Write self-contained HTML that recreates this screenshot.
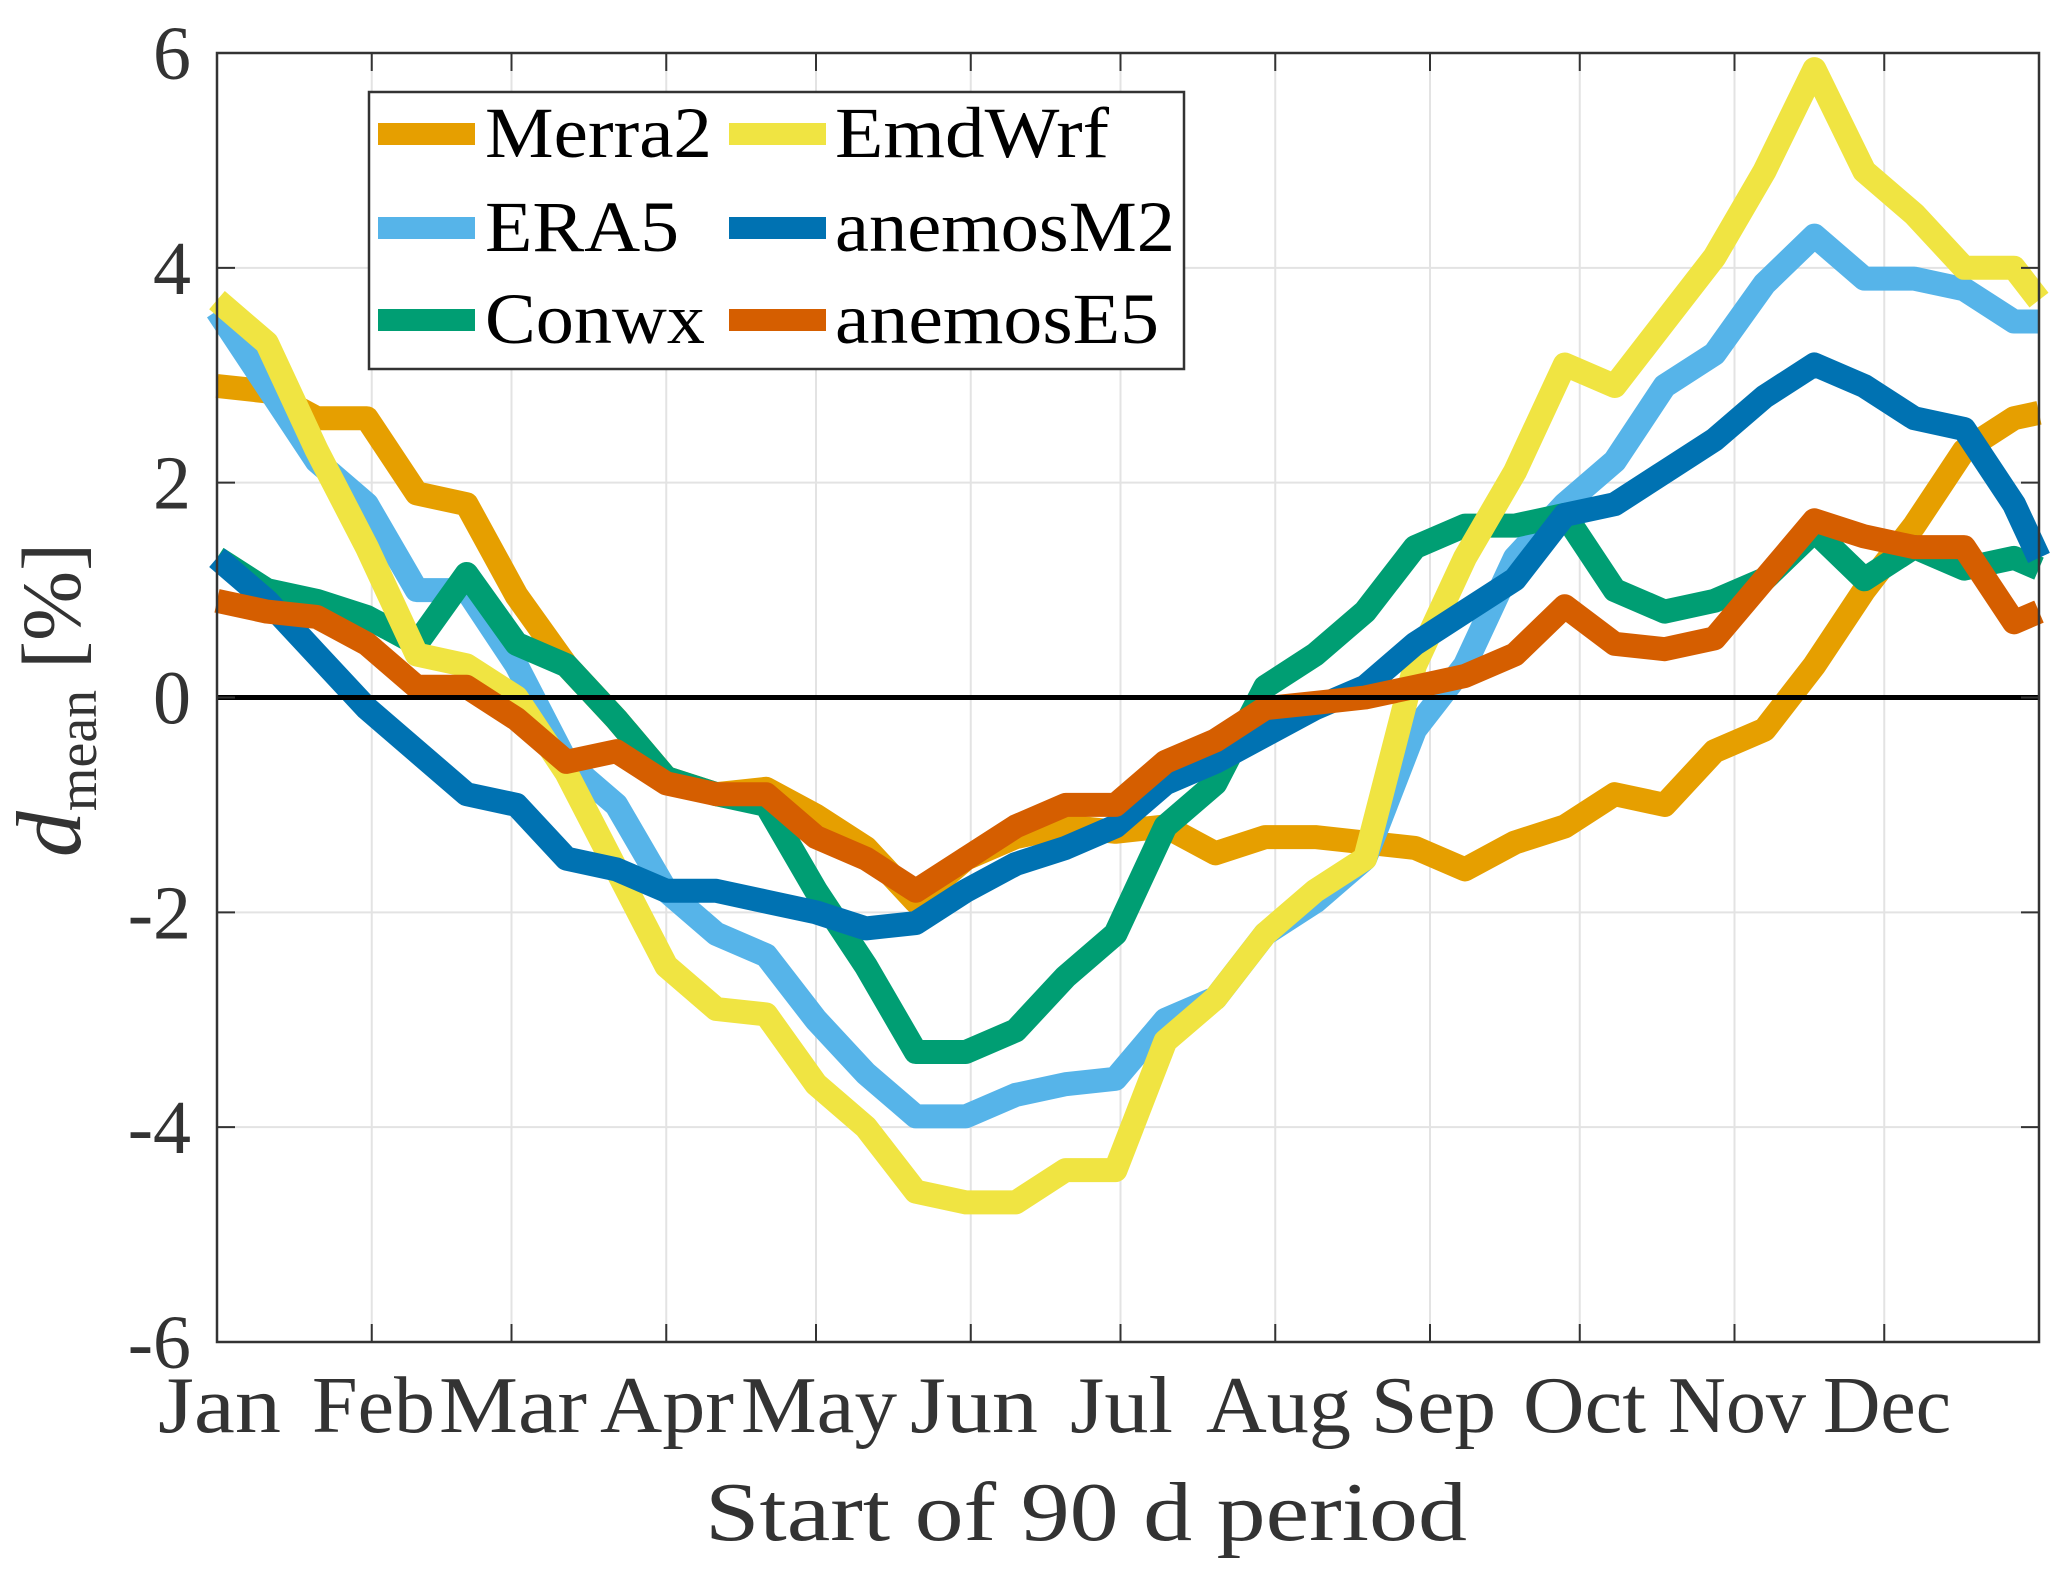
<!DOCTYPE html>
<html><head><meta charset="utf-8"><style>
html,body{margin:0;padding:0;background:#fff;}
svg{display:block;font-family:"Liberation Serif",serif;}
</style></head><body>
<svg id="chart" width="2067" height="1575" viewBox="0 0 2067 1575" xmlns="http://www.w3.org/2000/svg">
<rect width="2067" height="1575" fill="#fff"/>
<g id="grid"></g>
<g id="series"></g>
<g id="axes"></g>
<g id="legend"></g>
</svg>
<script>
const days = [0,10,20,30,40,50,60,70,80,90,100,110,120,130,140,150,160,170,180,190,200,210,220,230,240,250,260,270,280,290,300,310,320,330,340,350,360,365];
const merra2 = [2.9,2.85,2.6,2.6,1.9,1.8,0.95,0.3,-0.2,-0.75,-0.9,-0.85,-1.1,-1.4,-1.9,-1.5,-1.3,-1.2,-1.25,-1.2,-1.45,-1.3,-1.3,-1.35,-1.4,-1.6,-1.35,-1.2,-0.9,-1.0,-0.5,-0.3,0.3,1.0,1.6,2.3,2.6,2.65];
const era5 = [3.6,2.9,2.2,1.8,1.0,1.0,0.3,-0.6,-1.0,-1.8,-2.2,-2.4,-3.0,-3.5,-3.9,-3.9,-3.7,-3.6,-3.55,-3.0,-2.8,-2.2,-1.9,-1.5,-0.3,0.3,1.3,1.8,2.2,2.9,3.2,3.85,4.3,3.9,3.9,3.8,3.5,3.5];
const conwx = [1.3,1.0,0.9,0.75,0.5,1.15,0.5,0.3,-0.2,-0.75,-0.9,-1.0,-1.8,-2.5,-3.3,-3.3,-3.1,-2.6,-2.2,-1.2,-0.8,0.1,0.4,0.8,1.4,1.6,1.6,1.7,1.0,0.8,0.9,1.1,1.55,1.1,1.4,1.2,1.3,1.2];
const emdwrf = [3.7,3.3,2.3,1.4,0.4,0.3,0.0,-0.7,-1.6,-2.5,-2.9,-2.95,-3.6,-4.0,-4.6,-4.7,-4.7,-4.4,-4.4,-3.2,-2.8,-2.2,-1.8,-1.5,0.3,1.3,2.1,3.1,2.9,3.5,4.1,4.9,5.85,4.9,4.5,4.0,4.0,3.7];
const anemosM2 = [1.3,0.9,0.4,-0.1,-0.5,-0.9,-1.0,-1.5,-1.6,-1.8,-1.8,-1.9,-2.0,-2.15,-2.1,-1.8,-1.55,-1.4,-1.2,-0.8,-0.6,-0.35,-0.1,0.1,0.5,0.8,1.1,1.7,1.8,2.1,2.4,2.8,3.1,2.9,2.6,2.5,1.8,1.3];
const anemosE5 = [0.9,0.8,0.75,0.5,0.1,0.1,-0.2,-0.6,-0.5,-0.8,-0.9,-0.9,-1.3,-1.5,-1.8,-1.5,-1.2,-1.0,-1.0,-0.6,-0.4,-0.1,-0.05,0.0,0.1,0.2,0.4,0.85,0.5,0.45,0.55,1.1,1.65,1.5,1.4,1.4,0.7,0.8];
const monthLabels = ["Jan","Feb","Mar","Apr","May","Jun","Jul","Aug","Sep","Oct","Nov","Dec"];
const monthStarts = [0,31,59,90,120,151,181,212,243,273,304,334];
const yTicks = [-6,-4,-2,0,2,4,6];

const NS="http://www.w3.org/2000/svg";
const L=217,R=2039,T=53,B=1342;
const xS=d=>L+(R-L)*d/365;
const yS=v=>T+(B-T)*(6-v)/12;
function mk(tag,attrs,parent){const e=document.createElementNS(NS,tag);for(const k in attrs)e.setAttribute(k,attrs[k]);parent.appendChild(e);return e;}
const grid=document.getElementById('grid'),axes=document.getElementById('axes'),ser=document.getElementById('series'),leg=document.getElementById('legend');

const monthW=[123,123,148,134,156,128,103,145,125,123,138,128];
const monthLeft=[158,312,439,600,741,910,1070,1206,1371,1523,1668,1823];

yTicks.forEach(v=>{
  if(v>-6&&v<6){const g=mk('line',{x1:L,x2:R,y1:yS(v),y2:yS(v),stroke:'#e3e3e3','stroke-width':2},grid);
  
  }
  const t=mk('line',{x1:L,x2:L+18,y1:yS(v),y2:yS(v),stroke:'#333','stroke-width':2},axes);
  
  
  const t2=mk('line',{x1:R-18,x2:R,y1:yS(v),y2:yS(v),stroke:'#333','stroke-width':2},axes);
  
  
  const tx=mk('text',{x:L-26,y:yS(v)+26,'text-anchor':'end','font-size':76,fill:'#333'},axes);
  tx.textContent=String(v);
  
  
});
monthStarts.forEach((d,i)=>{
  const x=xS(d);
  if(i>0){const g=mk('line',{x1:x,x2:x,y1:T,y2:B,stroke:'#e3e3e3','stroke-width':2},grid);
  
  
  const t=mk('line',{x1:x,x2:x,y1:B-18,y2:B,stroke:'#333','stroke-width':2},axes);
  
  
  const t2=mk('line',{x1:x,x2:x,y1:T,y2:T+18,stroke:'#333','stroke-width':2},axes);
  
  }
  const tx=mk('text',{x:monthLeft[i],y:1432,'font-size':80,fill:'#333',textLength:monthW[i],lengthAdjust:'spacingAndGlyphs'},axes);
  tx.textContent=monthLabels[i];
  
  
});

const series=[
 {name:'Merra2',data:merra2,color:'#E69F00'},
 {name:'ERA5',data:era5,color:'#56B4E9'},
 {name:'Conwx',data:conwx,color:'#009E73'},
 {name:'EmdWrf',data:emdwrf,color:'#F0E442'},
 {name:'anemosM2',data:anemosM2,color:'#0072B2'},
 {name:'anemosE5',data:anemosE5,color:'#D55E00'}
];
series.forEach(s=>{
  const pts=s.data.map((v,i)=>xS(days[i]).toFixed(1)+','+yS(v).toFixed(1)).join(' ');
  const p=mk('polyline',{points:pts,fill:'none',stroke:s.color,'stroke-width':24,'stroke-linejoin':'round'},ser);
  
  
});
const zl=mk('line',{x1:L,x2:R,y1:yS(0),y2:yS(0),stroke:'#000','stroke-width':5},ser);



const box=mk('rect',{x:L,y:T,width:R-L,height:B-T,fill:'none',stroke:'#333','stroke-width':2.5},axes);



const xl=mk('text',{x:705,y:1540,'font-size':84,fill:'#333',textLength:762,lengthAdjust:'spacingAndGlyphs'},axes);
xl.textContent='Start of 90 d period';



const yl=mk('text',{transform:'translate(80,700) rotate(-90)','text-anchor':'middle','font-size':84,fill:'#333'},axes);


const d1=mk('tspan',{'font-style':'italic','font-size':92},yl);d1.textContent='d';
const d2=mk('tspan',{'font-size':56,dy:16},yl);d2.textContent='mean';
const d3=mk('tspan',{dy:-16},yl);d3.textContent=' [%]';

const lb=mk('rect',{x:369,y:92,width:815,height:277,fill:'#fff',stroke:'#333','stroke-width':2.5},leg);


const legW=[227,194,220,274,340,324];
const cols=[[378,485],[729,835]],rows=[134,228,320];
series.forEach((s,i)=>{
  const c=cols[i<3?0:1],r=rows[i%3];
  const ln=mk('line',{x1:c[0],x2:c[0]+97,y1:r,y2:r,stroke:s.color,'stroke-width':22},leg);
  
  
  const tx=mk('text',{x:c[1],y:r+23,'font-size':72,fill:'#000',textLength:legW[i],lengthAdjust:'spacingAndGlyphs'},leg);
  tx.textContent=s.name;
  
  
});
</script>
</body></html>
